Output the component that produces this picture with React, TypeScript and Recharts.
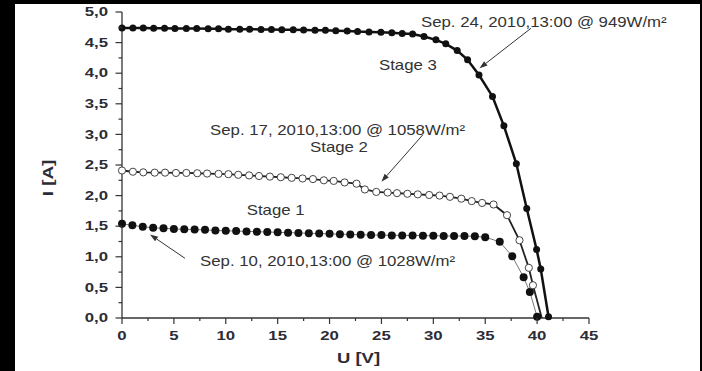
import { LineChart, Line, XAxis, YAxis, ReferenceDot, ReferenceLine } from 'recharts';

// Stage 1 – Sep. 10 (filled dots, thin line)
const stage1V = [0, 1, 2, 3, 4, 5, 6, 7, 8, 9, 10, 11, 12, 13, 14, 15, 16, 17, 18, 19, 20, 21, 22, 23, 24, 25, 26, 27, 28, 29, 30, 31, 32, 33, 34, 35, 36.4, 37.6, 38.7, 39.3, 40.0];
const stage1I = [1.54, 1.515, 1.49, 1.475, 1.465, 1.455, 1.45, 1.445, 1.44, 1.43, 1.425, 1.42, 1.415, 1.41, 1.405, 1.4, 1.395, 1.39, 1.385, 1.38, 1.375, 1.37, 1.365, 1.36, 1.355, 1.355, 1.35, 1.35, 1.35, 1.345, 1.345, 1.34, 1.34, 1.34, 1.335, 1.32, 1.245, 1.01, 0.665, 0.425, 0.02];

// Stage 2 – Sep. 17 (open circles)
const stage2V = [0, 1.05, 2.05, 3.15, 4.15, 5.2, 6.2, 7.25, 8.2, 9.3, 10.25, 11.2, 12.25, 13.2, 14.25, 15.3, 16.35, 17.4, 18.4, 19.45, 20.4, 21.45, 22.6, 23.4, 24.5, 25.6, 26.5, 27.5, 28.5, 29.6, 30.6, 31.6, 32.7, 33.7, 34.7, 35.8, 37.1, 38.3, 39.2, 39.6, 40.45];
const stage2I = [2.41, 2.39, 2.38, 2.375, 2.375, 2.37, 2.37, 2.365, 2.36, 2.355, 2.35, 2.34, 2.33, 2.32, 2.31, 2.3, 2.29, 2.28, 2.27, 2.25, 2.24, 2.215, 2.195, 2.1, 2.06, 2.05, 2.04, 2.03, 2.02, 2.01, 2.0, 1.98, 1.95, 1.91, 1.88, 1.855, 1.68, 1.27, 0.82, 0.535, 0];

// Stage 3 – Sep. 24 (filled dots, thick line)
const stage3V = [0, 1.05, 2.05, 3.05, 4.1, 5.1, 6.2, 7.2, 8.3, 9.3, 10.25, 11.35, 12.3, 13.4, 14.4, 15.4, 16.5, 17.5, 18.6, 19.6, 20.6, 21.7, 22.7, 23.8, 24.95, 26.0, 27.0, 28.0, 29.1, 30.25, 31.2, 32.3, 33.3, 34.4, 35.7, 36.8, 38.0, 39.0, 39.95, 40.35, 41.1];
const stage3I = [4.74, 4.74, 4.74, 4.735, 4.735, 4.73, 4.73, 4.73, 4.725, 4.725, 4.72, 4.72, 4.72, 4.715, 4.715, 4.71, 4.71, 4.705, 4.7, 4.7, 4.695, 4.69, 4.68, 4.675, 4.67, 4.66, 4.65, 4.64, 4.6, 4.545, 4.48, 4.37, 4.22, 3.97, 3.62, 3.14, 2.52, 1.79, 1.12, 0.8, 0.02];

const xTicks = [0, 2.5, 5, 7.5, 10, 12.5, 15, 17.5, 20, 22.5, 25, 27.5, 30, 32.5, 35, 37.5, 40, 42.5, 45];
const yTicks = [0, 0.25, 0.5, 0.75, 1, 1.25, 1.5, 1.75, 2, 2.25, 2.5, 2.75, 3, 3.25, 3.5, 3.75, 4, 4.25, 4.5, 4.75, 5];

const notes = [
  { text: 'Sep. 24, 2010,13:00 @ 949W/m²', v: 28.81, i: 4.747 },
  { text: 'Stage 3', v: 24.76, i: 4.05 },
  { text: 'Sep. 17, 2010,13:00 @ 1058W/m²', v: 8.48, i: 2.99 },
  { text: 'Stage 2', v: 18.12, i: 2.71 },
  { text: 'Stage 1', v: 12.02, i: 1.68 },
  { text: 'Sep. 10, 2010,13:00 @ 1028W/m²', v: 7.52, i: 0.85 },
];

const arrows = [
  { from: [39.41, 4.734], to: [34.45, 4.08] },
  { from: [28.97, 2.99], to: [25.0, 2.227] },
  { from: [6.07, 0.975], to: [2.7, 1.364] },
];

const toRows = (vs: number[], is: number[]) => vs.map((v, k) => ({ v, i: is[k] }));
const stage1 = toRows(stage1V, stage1I);
const stage2 = toRows(stage2V, stage2I);
const stage3 = toRows(stage3V, stage3I);

const FONT = '"Liberation Sans", Arial, sans-serif';
const AXIS = '#333';
const LABEL = '#2c2c36';

function XTick({ x, y, payload }: any) {
  const val = payload.value as number;
  const major = val % 5 === 0;
  return (
    <g>
      <line x1={x} y1={y} x2={x} y2={y + (major ? 6 : 3)} stroke={AXIS} strokeWidth={1.2} />
      {major && (
        <text transform={`translate(${x},${y + 22}) scale(1.4,1)`} textAnchor="middle" fontSize={12} fontWeight="bold" fontFamily={FONT} fill={LABEL}>
          {val}
        </text>
      )}
    </g>
  );
}

function YTick({ x, y, payload }: any) {
  const val = payload.value as number;
  const major = Math.abs(val * 2 - Math.round(val * 2)) < 1e-6;
  return (
    <g>
      <line x1={x - (major ? 6.5 : 3.5)} y1={y} x2={x} y2={y} stroke={AXIS} strokeWidth={1.2} />
      {major && (
        <text transform={`translate(${x - 14},${y + 4.2}) scale(1.4,1)`} textAnchor="end" fontSize={12} fontWeight="bold" fontFamily={FONT} fill={LABEL}>
          {val.toFixed(1).replace('.', ',')}
        </text>
      )}
    </g>
  );
}

function XTitle({ viewBox }: any) {
  const cx = viewBox.x + viewBox.width / 2 + 3;
  return (
    <text transform={`translate(${cx},363) scale(1.32,1)`} textAnchor="middle" fontSize={14} fontWeight="bold" fontFamily={FONT} fill={LABEL}>
      U [V]
    </text>
  );
}

function YTitle() {
  return (
    <text transform="translate(52.5,178) rotate(-90) scale(1.35,1)" textAnchor="middle" fontSize={14} fontWeight="bold" fontFamily={FONT} fill={LABEL}>
      I [A]
    </text>
  );
}

function Arrow({ x1, y1, x2, y2 }: any) {
  const ang = Math.atan2(y2 - y1, x2 - x1);
  const len = 8;
  const half = 2.8;
  const bx = x2 - len * Math.cos(ang);
  const by = y2 - len * Math.sin(ang);
  const px = -Math.sin(ang) * half;
  const py = Math.cos(ang) * half;
  return (
    <g>
      <line x1={x1} y1={y1} x2={bx} y2={by} stroke="#333" strokeWidth={1} />
      <polygon points={`${x2},${y2} ${bx + px},${by + py} ${bx - px},${by - py}`} fill="#333" />
    </g>
  );
}

const openDot = (p: any) => {
  if (p.payload.i <= 0) return <g key={p.index} />;
  return <circle key={p.index} cx={p.cx} cy={p.cy} r={3.6} fill="#fff" stroke="#444" strokeWidth={1} />;
};

export default function App() {
  return (
    <div style={{ position: 'absolute', left: 0, top: 0, width: 702, height: 371, background: '#000' }}>
      <div style={{ position: 'absolute', left: 15, top: 4, width: 685, height: 367, background: '#fff' }} />
      <div style={{ position: 'absolute', left: 0, top: 0 }}>
        <LineChart width={702} height={371} margin={{ top: 12, right: 113, left: 0, bottom: 0 }}>
          <XAxis
            type="number"
            dataKey="v"
            domain={[0, 45]}
            ticks={xTicks}
            interval={0}
            height={53}
            tickLine={false}
            tickSize={0}
            tickMargin={0}
            tick={<XTick />}
            axisLine={{ stroke: AXIS, strokeWidth: 1.3 }}
            label={<XTitle />}
          />
          <YAxis
            type="number"
            domain={[0, 5]}
            ticks={yTicks}
            interval={0}
            width={122}
            tickLine={false}
            tickSize={0}
            tickMargin={0}
            tick={<YTick />}
            axisLine={{ stroke: AXIS, strokeWidth: 1.3 }}
            label={<YTitle />}
          />
          <Line
            data={stage1}
            dataKey="i"
            type="linear"
            stroke="#777"
            strokeWidth={1}
            dot={{ r: 4, fill: '#111', stroke: 'none' }}
            isAnimationActive={false}
          />
          <Line
            data={stage2}
            dataKey="i"
            type="linear"
            stroke="#222"
            strokeWidth={1.8}
            dot={openDot}
            isAnimationActive={false}
          />
          <Line
            data={stage3}
            dataKey="i"
            type="linear"
            stroke="#111"
            strokeWidth={2.5}
            dot={{ r: 3.5, fill: '#111', stroke: 'none' }}
            isAnimationActive={false}
          />
          {arrows.map((a, k) => (
            <ReferenceLine
              key={`a${k}`}
              segment={[{ x: a.from[0], y: a.from[1] }, { x: a.to[0], y: a.to[1] }]}
              ifOverflow="visible"
              shape={(p: any) => <Arrow {...p} />}
            />
          ))}
          {notes.map((n, k) => (
            <ReferenceDot
              key={`n${k}`}
              x={n.v}
              y={n.i}
              r={1}
              ifOverflow="visible"
              shape={(p: any) => (
                <text transform={`translate(${p.cx},${p.cy}) scale(1.2,1)`} fontSize={14} fontFamily={FONT} fill="#333">
                  {n.text}
                </text>
              )}
            />
          ))}
        </LineChart>
      </div>
    </div>
  );
}
